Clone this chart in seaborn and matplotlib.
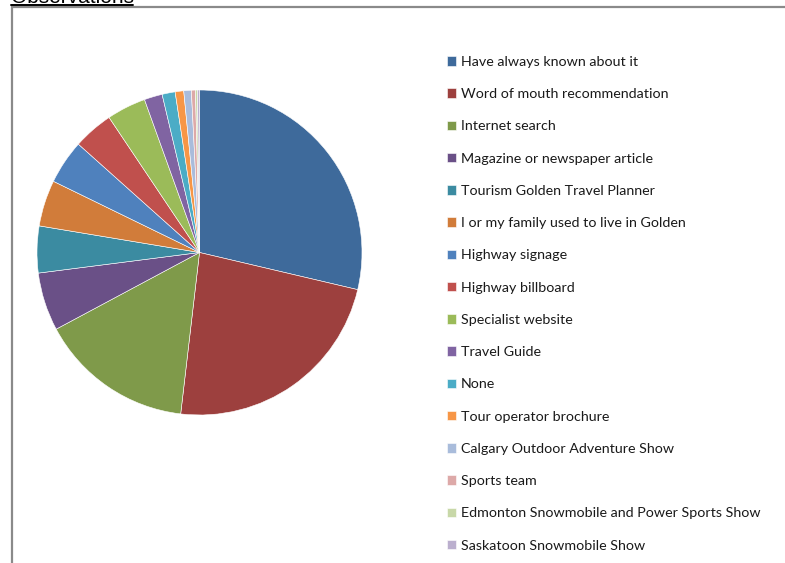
import matplotlib
matplotlib.use("Agg")
import matplotlib.pyplot as plt
from matplotlib.patches import Rectangle
from matplotlib.lines import Line2D
import seaborn as sns

# How respondents heard about the destination (share of responses, %)
categories = [
    "Have always known about it",
    "Word of mouth recommendation",
    "Internet search",
    "Magazine or newspaper article",
    "Tourism Golden Travel Planner",
    "I or my family used to live in Golden",
    "Highway signage",
    "Highway billboard",
    "Specialist website",
    "Travel Guide",
    "None",
    "Tour operator brochure",
    "Calgary Outdoor Adventure Show",
    "Sports team",
    "Edmonton Snowmobile and Power Sports Show",
    "Saskatoon Snowmobile Show",
]
shares = [28.7, 23.2, 15.35, 5.8, 4.65, 4.6, 4.4, 4.0, 3.9, 1.8, 1.3, 0.85, 0.75, 0.4, 0.2, 0.2]

slice_colors = [
    "#3E6A9B", "#9D403E", "#7F9A4A", "#6A5087", "#3B8BA1", "#D17C3A",
    "#4F81BD", "#C0504D", "#9BBB59", "#8064A2", "#4BACC6", "#F79646",
    "#A9BCDB", "#DDA9A8", "#C8D8A8", "#BBAFCE",
]

sns.set_theme(style="white")
plt.rcParams["font.family"] = ["Lato", "DejaVu Sans"]

W, H = 785, 563
fig = plt.figure(figsize=(W / 100, H / 100), dpi=100)
fig.patch.set_facecolor("white")

# Frame around the chart area (runs past the right and bottom edges)
fig.add_artist(Rectangle((11.5 / W, -0.1), 1.2, 1 - 7.5 / H + 0.1,
                         transform=fig.transFigure, fill=False,
                         edgecolor="#8A8A8A", linewidth=1.6))

# Section heading, partly above the top edge
fig.text(11 / W, 1 - 3 / H, "Observations", family=["Liberation Sans", "DejaVu Sans"],
         fontsize=15, color="black", ha="left", va="baseline")
fig.add_artist(Line2D([11 / W, 133 / W], [1 - 4.8 / H, 1 - 4.8 / H],
                      transform=fig.transFigure, color="black", linewidth=1.4))

# Pie
cx, cy, r = 199.5, 252.5, 162.5
ax = fig.add_axes([(cx - r) / W, 1 - (cy + r) / H, 2 * r / W, 2 * r / H])
wedges, _ = ax.pie(shares, colors=slice_colors, startangle=90, counterclock=False,
                   radius=1, wedgeprops=dict(edgecolor="white", linewidth=0.4))
ax.set_xlim(-1, 1)
ax.set_ylim(-1, 1)
ax.set_aspect("equal")
ax.axis("off")

leg = fig.legend(wedges, categories, loc="upper left",
                 bbox_to_anchor=(447 / W, 1 - 56 / H),
                 frameon=False, fontsize=10.3, handlelength=0.65, handleheight=0.65,
                 handletextpad=0.3, labelspacing=1.415, borderpad=0, borderaxespad=0)
for t in leg.get_texts():
    t.set_color("#1A1A1A")

fig.savefig("out.png", dpi=100)
